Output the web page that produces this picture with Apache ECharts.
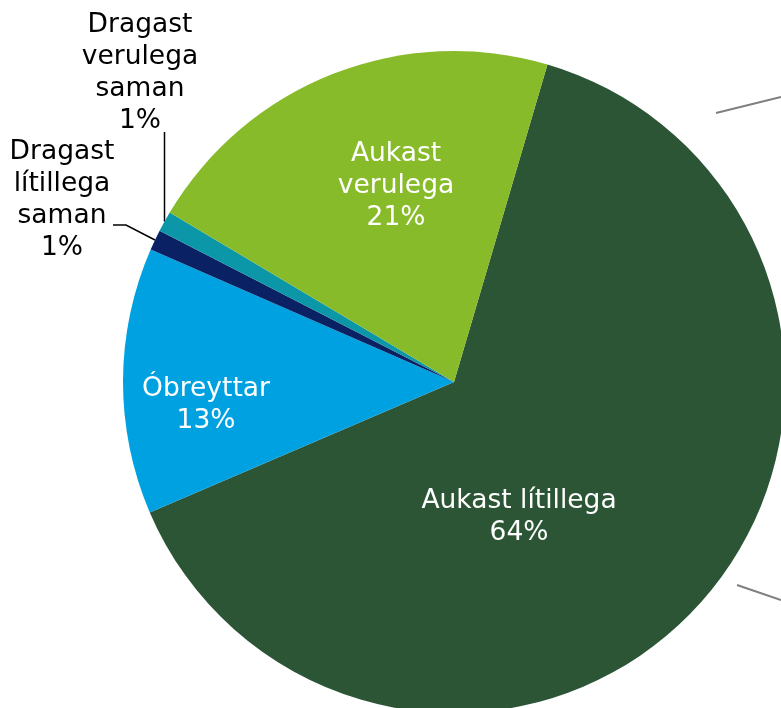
<!DOCTYPE html>
<html>
<head>
<meta charset="utf-8">
<script src="https://cdn.jsdelivr.net/npm/echarts@6/dist/echarts.min.js"></script>
<style>
html, body { margin: 0; padding: 0; background: #fff; }
#main { width: 781px; height: 708px; }
</style>
</head>
<body>
<div id="main"></div>
<script>
// flokkar og hlutföll (%)
var categories = ['Aukast lítillega', 'Óbreyttar', 'Dragast\nlítillega\nsaman', 'Dragast\nverulega\nsaman', 'Aukast\nverulega'];
var values = [64, 13, 1, 1, 21];
var colors = ['#2c5535', '#00a1e0', '#0a2163', '#0c97a8', '#87bb29'];

// label centres, picked by eye
var labelPos = [[519, 517], [206, 405], [62, 200], [140, 73], [396, 186]];

var chart = echarts.init(document.getElementById('main'));

var pieData = categories.map(function (name, i) {
    var outside = values[i] < 5;
    return {
        name: name,
        value: values[i],
        itemStyle: { color: colors[i] },
        label: {
            position: outside ? 'outside' : 'inside',
            color: outside ? '#000' : '#fff'
        },
        labelLine: { show: outside }
    };
});

chart.setOption({
    animation: false,
    graphic: [ // connector stubs from the second chart, cut off at the right edge
        { type: 'line', shape: { x1: 716, y1: 113, x2: 781, y2: 97 }, style: { stroke: '#7f7f7f', lineWidth: 2 } },
        { type: 'line', shape: { x1: 737, y1: 585, x2: 781, y2: 600 }, style: { stroke: '#7f7f7f', lineWidth: 2 } }
    ],
    series: [
        {
            type: 'pie',
            center: [454, 382],
            radius: 331,
            startAngle: 73.6,
            clockwise: true,
            avoidLabelOverlap: false,
            itemStyle: { borderWidth: 0 },
            label: {
                fontFamily: 'DejaVu Sans',
                fontSize: 26.5,
                lineHeight: 32,
                align: 'center',
                formatter: function (p) {
                    return p.name + '\n' + p.value + '%';
                }
            },
            labelLine: {
                length: 10,
                length2: 10,
                lineStyle: { color: '#000', width: 1.5 }
            },
            labelLayout: function (params) {
                var i = params.dataIndex;
                var res = {
                    x: labelPos[i][0],
                    y: labelPos[i][1],
                    align: 'center',
                    verticalAlign: 'middle'
                };
                if (params.labelLinePoints) {
                    var p0 = params.labelLinePoints[0];
                    if (i === 3) {
                        res.labelLinePoints = [p0, [p0[0], 132], [p0[0], 132]];
                    } else if (i === 2) {
                        res.labelLinePoints = [p0, [126, 225], [113, 225]];
                    }
                }
                return res;
            },
            data: pieData
        }
    ]
});
</script>
</body>
</html>
